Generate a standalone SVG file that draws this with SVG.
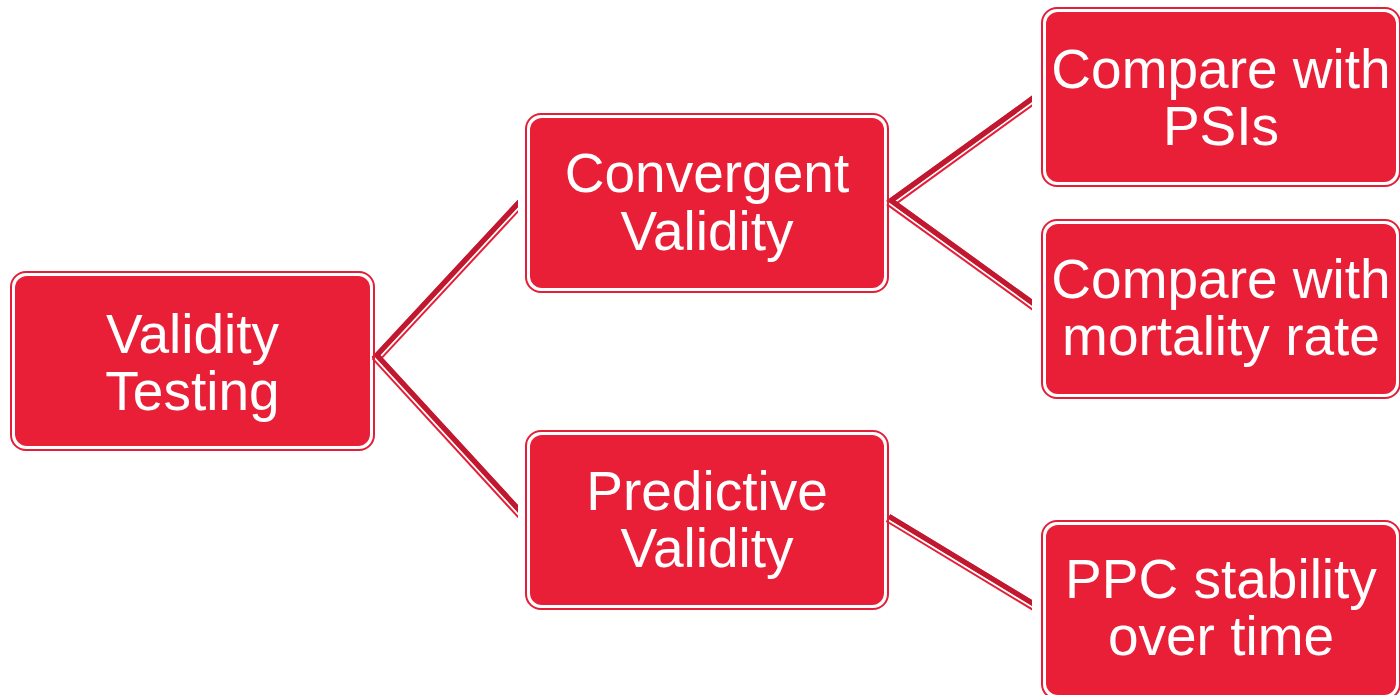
<svg xmlns="http://www.w3.org/2000/svg" width="1400" height="695" viewBox="0 0 1400 695">
<style>
.base{stroke:#e41e36;stroke-width:9;fill:none}
.gap{stroke:#ffffff;stroke-width:1.8;fill:none}
.dark{stroke:#c0182f;stroke-width:5;fill:none}
.outer{fill:none;stroke:#e41e36;stroke-width:2}
.inner{fill:#e81f37}
.lbl{font-family:"Liberation Sans",Arial,sans-serif;font-size:55px;fill:#ffffff;text-anchor:middle}
</style>
<defs>
<clipPath id="cA"><rect x="370" y="0" width="148" height="695"/></clipPath>
<clipPath id="cB"><rect x="885" y="0" width="147" height="695"/></clipPath>
</defs>
<rect width="1400" height="695" fill="#ffffff"/>
<g id="connectors">
<g clip-path="url(#cA)">
<line class="base" x1="375" y1="360" x2="521" y2="203"/>
<line class="gap" x1="376.17" y1="361.09" x2="522.17" y2="204.09"/>
<line class="dark" x1="373.53" y1="358.64" x2="519.53" y2="201.64"/>
<line class="base" x1="375" y1="356" x2="521" y2="515"/>
<line class="gap" x1="373.82" y1="357.08" x2="519.82" y2="516.08"/>
<line class="dark" x1="376.48" y1="354.65" x2="522.48" y2="513.65"/>
</g>
<g clip-path="url(#cB)">
<line class="base" x1="889" y1="204.5" x2="1035" y2="99"/>
<line class="gap" x1="889.94" y1="205.8" x2="1035.94" y2="100.3"/>
<line class="dark" x1="887.83" y1="202.88" x2="1033.83" y2="97.38"/>
<line class="base" x1="889" y1="201.5" x2="1035" y2="307"/>
<line class="gap" x1="888.06" y1="202.8" x2="1034.06" y2="308.3"/>
<line class="dark" x1="890.17" y1="199.88" x2="1036.17" y2="305.38"/>
<line class="base" x1="888" y1="518" x2="1035" y2="607"/>
<line class="gap" x1="887.17" y1="519.37" x2="1034.17" y2="608.37"/>
<line class="dark" x1="889.04" y1="516.29" x2="1036.04" y2="605.29"/>
</g>
</g>
<g id="validity-testing">
<rect class="outer" x="11" y="272" width="363" height="178" rx="15"/>
<rect class="inner" x="15" y="276" width="355" height="170" rx="12"/>
<text class="lbl" x="192.5" y="353">Validity</text>
<text class="lbl" x="192.5" y="410">Testing</text>
</g>
<g id="convergent-validity">
<rect class="outer" x="526" y="114" width="362" height="178" rx="15"/>
<rect class="inner" x="530" y="118" width="354" height="170" rx="12"/>
<text class="lbl" x="707" y="192">Convergent</text>
<text class="lbl" x="707" y="250">Validity</text>
</g>
<g id="predictive-validity">
<rect class="outer" x="526" y="431" width="362" height="178" rx="15"/>
<rect class="inner" x="530" y="435" width="354" height="170" rx="12"/>
<text class="lbl" x="707" y="510">Predictive</text>
<text class="lbl" x="707" y="567">Validity</text>
</g>
<g id="compare-psis">
<rect class="outer" x="1042" y="8" width="358" height="178" rx="15"/>
<rect class="inner" x="1046" y="12" width="350" height="170" rx="12"/>
<text class="lbl" x="1221" y="88">Compare with</text>
<text class="lbl" x="1221" y="145">PSIs</text>
</g>
<g id="compare-mortality">
<rect class="outer" x="1042" y="220" width="358" height="178" rx="15"/>
<rect class="inner" x="1046" y="224" width="350" height="170" rx="12"/>
<text class="lbl" x="1221" y="298">Compare with</text>
<text class="lbl" x="1221" y="355">mortality rate</text>
</g>
<g id="ppc-stability">
<rect class="outer" x="1042" y="521" width="358" height="178" rx="15"/>
<rect class="inner" x="1046" y="525" width="350" height="170" rx="12"/>
<text class="lbl" x="1221" y="598">PPC stability</text>
<text class="lbl" x="1221" y="655">over time</text>
</g>
</svg>
